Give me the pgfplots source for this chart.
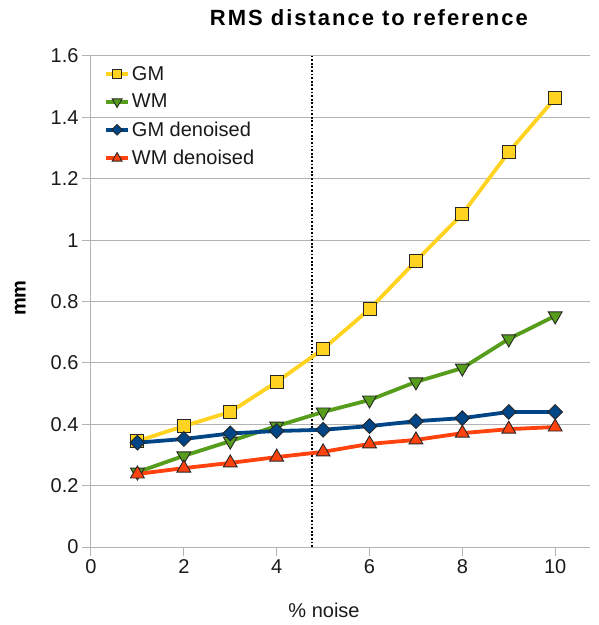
\documentclass[border=0pt]{standalone}
\usepackage{fontspec}
\setmainfont{Liberation Sans}
\newfontfamily\titlefont{Liberation Sans}[LetterSpace=9]
\usepackage{pgfplots}
\pgfplotsset{compat=1.18}
\definecolor{lyellow}{HTML}{FFD320}
\definecolor{lgreen}{HTML}{579D1C}
\definecolor{lblue}{HTML}{004586}
\definecolor{lorange}{HTML}{FF420E}
\definecolor{lgrid}{HTML}{B3B3B3}
\definecolor{ltext}{HTML}{1A1A1A}
\begin{document}
\begin{tikzpicture}[x=1pt,y=1pt]
\path[use as bounding box] (0,0) rectangle (599,625);
\begin{axis}[
  at={(91pt,78pt)}, anchor=south west,
  scale only axis, width=499pt, height=491pt,
  xmin=0, xmax=10.75, ymin=0, ymax=1.6,
  xtick={0,2,4,6,8,10},
  ytick={0,0.2,0.4,0.6,0.8,1,1.2,1.4,1.6},
  /pgf/number format/assume math mode=true,
  /pgf/number format/fixed,
  axis x line*=bottom, axis y line*=left,
  axis line style={draw=lgrid, line width=1pt, -},
  ymajorgrids=true,
  major grid style={draw=lgrid, line width=1pt},
  tick align=outside, major tick length=9pt,
  tick style={draw=lgrid, line width=1pt},
  ticklabel style={font=\fontsize{20}{24}\selectfont, text=ltext},
  xlabel={\% noise},
  xlabel style={at={(axis description cs:0.467,-0.128)}, anchor=center, font=\fontsize{20}{24}\selectfont, text=ltext},
  ylabel={mm},
  ylabel style={at={(axis description cs:-0.142,0.507)}, anchor=center, font=\bfseries\fontsize{20}{24}\selectfont},
  title={RMS distance to reference},
  title style={at={(axis description cs:0.557,1.066)}, anchor=center, font=\titlefont\bfseries\fontsize{22}{26}\selectfont},
  legend style={at={(axis description cs:0.02,0.988)}, anchor=north west, draw=none, fill=none,
     font=\fontsize{20}{24}\selectfont, row sep=8.5pt, text=ltext},
  legend cell align=left,
  legend image code/.code={\draw[mark repeat=2,mark phase=2,#1,/tikz/every mark/.append style={scale=0.72}] plot coordinates {(0pt,0pt)(11pt,0pt)(22pt,0pt)};},
  every axis plot/.append style={line width=3.8pt},
  clip=false,
]
\addplot[black, line width=1.8pt, dash pattern=on 1.8pt off 1.8pt, forget plot] coordinates {(4.76,0) (4.76,1.6)};

\addplot[lyellow, mark=square*, mark size=6.5pt, mark options={solid, draw=black!85, line width=0.9pt, fill=lyellow}] coordinates {
(1,0.345) (2,0.394) (3,0.440) (4,0.538) (5,0.645) (6,0.775) (7,0.932) (8,1.085) (9,1.287) (10,1.463)};
\addlegendentry{GM}

\addplot[lgreen, mark=triangle*, mark size=8pt, mark options={solid, rotate=180, draw=black!85, line width=0.9pt, fill=lgreen}] coordinates {
(1,0.244) (2,0.297) (3,0.345) (4,0.394) (5,0.440) (6,0.479) (7,0.538) (8,0.583) (9,0.678) (10,0.753)};
\addlegendentry{WM}

\addplot[lblue, mark=square*, mark size=5.2pt, mark options={solid, rotate=45, draw=black!85, line width=0.9pt, fill=lblue}] coordinates {
(1,0.340) (2,0.352) (3,0.370) (4,0.378) (5,0.382) (6,0.394) (7,0.410) (8,0.420) (9,0.440) (10,0.440)};
\addlegendentry{GM denoised}

\addplot[lorange, mark=triangle*, mark size=8pt, mark options={solid, draw=black!85, line width=0.9pt, fill=lorange}] coordinates {
(1,0.238) (2,0.257) (3,0.274) (4,0.293) (5,0.310) (6,0.336) (7,0.349) (8,0.371) (9,0.384) (10,0.391)};
\addlegendentry{WM denoised}
\end{axis}
\end{tikzpicture}
\end{document}
